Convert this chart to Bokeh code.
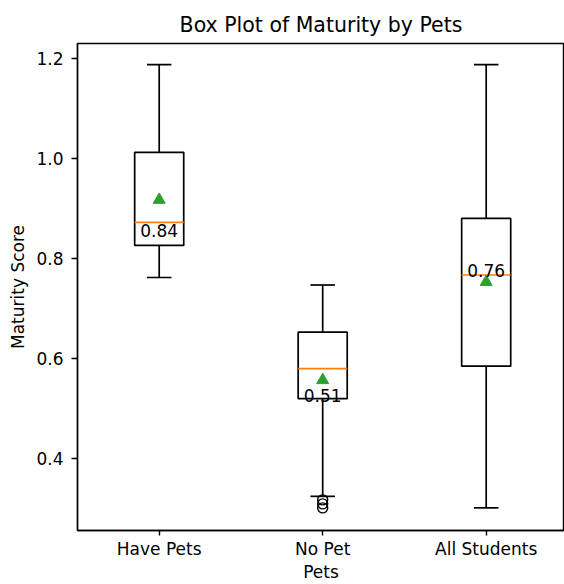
from bokeh.plotting import figure
from bokeh.models import FixedTicker, PrintfTickFormatter, Range1d
from bokeh.embed import file_html
from bokeh.resources import INLINE
from bokeh.core.properties import value

categories = ["Have Pets", "No Pet", "All Students"]
positions = [1, 2, 3]
q1 = [0.826, 0.520, 0.585]
q3 = [1.012, 0.653, 0.880]
medians = [0.872, 0.580, 0.767]
whisker_low = [0.762, 0.325, 0.302]
whisker_high = [1.187, 0.747, 1.187]
means = [0.917, 0.557, 0.753]
label_values = [0.84, 0.51, 0.76]
outlier_x = [2, 2, 2]
outlier_y = [0.318, 0.310, 0.302]
y_ticks = [0.4, 0.6, 0.8, 1.0, 1.2]

box_w = 0.3
cap_w = 0.15
FONT = "DejaVu Sans"
LW = 1.7

p = figure(width=564, height=584, output_backend="svg", toolbar_location=None,
           x_range=Range1d(0.5003, 3.479), y_range=Range1d(0.2568, 1.2292),
           min_border_left=77, min_border_right=0, min_border_top=43, min_border_bottom=54,
           title="Box Plot of Maturity by Pets")

p.title.align = "center"
p.title.text_font = FONT
p.title.text_font_size = "20.5px"
p.title.text_font_style = "normal"
p.title.text_color = "#000000"
p.title.standoff = 13

p.xgrid.visible = False
p.ygrid.visible = False
p.outline_line_color = "#000000"
p.outline_line_width = 1.4
p.outline_line_alpha = 1.0
p.background_fill_color = "white"
p.border_fill_color = "white"

left = [x - box_w / 2 for x in positions]
right = [x + box_w / 2 for x in positions]
cap_l = [x - cap_w / 2 for x in positions]
cap_r = [x + cap_w / 2 for x in positions]

# whiskers
p.segment(x0=positions, y0=q3, x1=positions, y1=whisker_high, line_color="black", line_width=LW)
p.segment(x0=positions, y0=q1, x1=positions, y1=whisker_low, line_color="black", line_width=LW)
# caps
p.segment(x0=cap_l, y0=whisker_high, x1=cap_r, y1=whisker_high, line_color="black", line_width=LW)
p.segment(x0=cap_l, y0=whisker_low, x1=cap_r, y1=whisker_low, line_color="black", line_width=LW)
# boxes
p.quad(left=left, right=right, bottom=q1, top=q3, fill_color="white", line_color="black", line_width=LW)
# medians
p.segment(x0=left, y0=medians, x1=right, y1=medians, line_color="#ff7f0e", line_width=LW)
# means
p.scatter(x=positions, y=means, marker="triangle", size=12, fill_color="#2ca02c", line_color="#2ca02c")
# outliers
p.scatter(x=outlier_x, y=outlier_y, marker="circle", size=10, fill_color=None, line_color="black", line_width=1.4)
# labels
p.text(x=positions, y=label_values, text=[f"{v:.2f}" for v in label_values],
       text_align="center", text_baseline="alphabetic", y_offset=-8,
       text_font=value(FONT), text_font_size="17px", text_color="#000000")

# axes
p.xaxis.ticker = FixedTicker(ticks=positions)
p.xaxis.major_label_overrides = {1: categories[0], 2: categories[1], 3: categories[2]}
p.yaxis.ticker = FixedTicker(ticks=y_ticks)
p.yaxis.formatter = PrintfTickFormatter(format="%.1f")
p.xaxis.axis_label = "Pets"
p.yaxis.axis_label = "Maturity Score"
for ax in (p.xaxis[0], p.yaxis[0]):
    ax.axis_line_color = "black"
    ax.axis_line_width = 1.4
    ax.major_tick_line_color = "black"
    ax.major_tick_line_width = 1.4
    ax.major_tick_in = 0
    ax.minor_tick_line_color = None
    ax.major_label_text_font = FONT
    ax.major_label_text_font_size = "17px"
    ax.major_label_text_color = "#000000"
    ax.axis_label_text_font = FONT
    ax.axis_label_text_font_size = "17px"
    ax.axis_label_text_font_style = "normal"
    ax.axis_label_text_color = "#000000"
p.xaxis.major_tick_out = 5
p.yaxis.major_tick_out = 6
p.xaxis.major_label_standoff = 3
p.xaxis.axis_label_standoff = 0
p.yaxis.major_label_standoff = 8
p.yaxis.axis_label_standoff = 5

open("out.html", "w").write(file_html(p, INLINE))
